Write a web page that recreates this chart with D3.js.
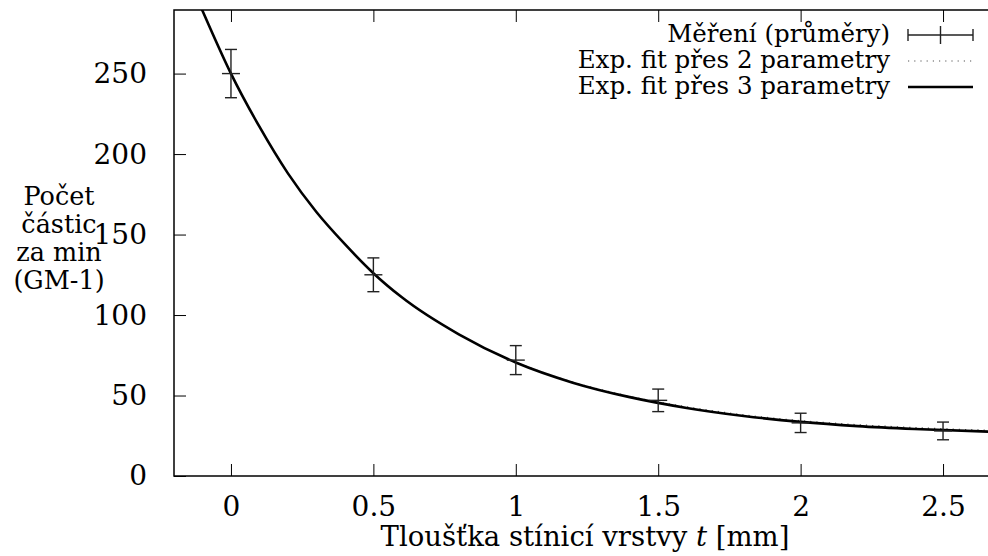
<!DOCTYPE html>
<html lang="cs">
<head>
  <meta charset="utf-8">
  <title>Tloušťka stínicí vrstvy</title>
  <script src="https://d3js.org/d3.v7.min.js"></script>
  <style>
    body { margin: 0; background: #fff; }
    svg { display: block; }
    text { font-family: "DejaVu Serif", serif; fill: #000; }
  </style>
</head>
<body>
<script>
// measured averages with error bars
var tMeas   = [0, 0.5, 1, 1.5, 2, 2.5];
var nMeas   = [250, 125, 72, 47, 33, 28];
var nErr    = [15, 10.5, 9, 7, 6, 5.5];

// fit curves
var tFit    = [-0.12, -0.1, 0, 0.1, 0.2, 0.3, 0.4, 0.5, 0.6, 0.8, 1.0, 1.2, 1.4, 1.6, 1.8, 2.0, 2.2, 2.4, 2.7];
var nFit3   = [297, 289, 250, 217, 188, 164, 144, 126, 111, 88, 70.5, 58, 49, 42.3, 37.3, 33.6, 31, 29.2, 27.3];
var nFit2   = [297, 289, 250, 217, 188, 164, 144, 126, 111, 88, 70.8, 58.4, 49.5, 43, 38, 34.4, 31.9, 30.1, 28.2];

var xTicks  = [0, 0.5, 1, 1.5, 2, 2.5];
var yTicks  = [0, 50, 100, 150, 200, 250];
var legendLabels = ["Měření (průměry)", "Exp. fit přes 2 parametry", "Exp. fit přes 3 parametry"];
var yLabelLines  = ["Počet", "částic", "za min", "(GM-1)"];

var w = 988, h = 556;
// plot box (right edge lies outside the picture, as in the original)
var pLeft = 174, pRight = 1000, pTop = 10, pBottom = 476;

var x = d3.scaleLinear().domain([-0.2, 2.7]).range([pLeft, pRight]);
var y = d3.scaleLinear().domain([0, 289.5]).range([pBottom, pTop]);

var svg = d3.select("body").append("svg")
  .attr("width", w)
  .attr("height", h);

svg.append("defs").append("clipPath").attr("id", "plot")
  .append("rect")
  .attr("x", pLeft).attr("y", pTop)
  .attr("width", pRight - pLeft).attr("height", pBottom - pTop);

// axes with gnuplot-like inward ticks, mirrored on top/right
var tick = 12;
svg.append("g")
  .attr("transform", "translate(0," + pBottom + ")")
  .call(d3.axisBottom(x).tickValues(xTicks).tickSizeInner(-tick).tickSizeOuter(0).tickPadding(20)
    .tickFormat(function(d) { return String(d); }))
  .call(function(g) { g.select(".domain").remove(); });
svg.append("g")
  .attr("transform", "translate(0," + pTop + ")")
  .call(d3.axisTop(x).tickValues(xTicks).tickSizeInner(-tick).tickSizeOuter(0).tickFormat(""))
  .call(function(g) { g.select(".domain").remove(); });
svg.append("g")
  .attr("transform", "translate(" + pLeft + ",0)")
  .call(d3.axisLeft(y).tickValues(yTicks).tickSizeInner(-tick).tickSizeOuter(0).tickPadding(27))
  .call(function(g) { g.select(".domain").remove(); });
svg.append("g")
  .attr("transform", "translate(" + pRight + ",0)")
  .call(d3.axisRight(y).tickValues(yTicks).tickSizeInner(-tick).tickSizeOuter(0).tickFormat(""))
  .call(function(g) { g.select(".domain").remove(); });

svg.selectAll(".tick line").attr("stroke", "#000").attr("stroke-width", 1);
svg.selectAll(".tick text").attr("font-size", 28);

// frame
svg.append("rect")
  .attr("x", pLeft).attr("y", pTop)
  .attr("width", pRight - pLeft).attr("height", pBottom - pTop)
  .attr("fill", "none").attr("stroke", "#000").attr("stroke-width", 1.5);

// axis labels
svg.append("text")
  .attr("x", 585).attr("y", 546)
  .attr("text-anchor", "middle")
  .attr("font-size", 27.5)
  .html("Tloušťka stínicí vrstvy <tspan font-style='italic'>t</tspan> [mm]");

svg.append("g").selectAll("text")
  .data(yLabelLines)
  .enter().append("text")
  .attr("x", 59)
  .attr("y", function(d, i) { return 205 + i * 28; })
  .attr("text-anchor", "middle")
  .attr("font-size", 25.5)
  .text(function(d) { return d; });

// fit curves
var plot = svg.append("g").attr("clip-path", "url(#plot)");
var line = function(vals) {
  return d3.line()
    .x(function(d, i) { return x(tFit[i]); })
    .y(function(d) { return y(d); })
    .curve(d3.curveMonotoneX)(vals);
};
plot.append("path")
  .attr("d", line(nFit2))
  .attr("fill", "none").attr("stroke", "#555").attr("stroke-width", 1.2)
  .attr("stroke-dasharray", "1.2,5");
plot.append("path")
  .attr("d", line(nFit3))
  .attr("fill", "none").attr("stroke", "#000").attr("stroke-width", 2.6);

// measurements: error bars + cross
var cap = 6, cross = 9;
var pts = plot.selectAll("g.pt")
  .data(tMeas)
  .enter().append("g").attr("class", "pt")
  .attr("stroke", "#222").attr("stroke-width", 1.4);
pts.append("line")
  .attr("x1", function(d) { return x(d); }).attr("x2", function(d) { return x(d); })
  .attr("y1", function(d, i) { return y(nMeas[i] + nErr[i]); })
  .attr("y2", function(d, i) { return y(nMeas[i] - nErr[i]); });
pts.append("line")
  .attr("x1", function(d) { return x(d) - cap; }).attr("x2", function(d) { return x(d) + cap; })
  .attr("y1", function(d, i) { return y(nMeas[i] + nErr[i]); })
  .attr("y2", function(d, i) { return y(nMeas[i] + nErr[i]); });
pts.append("line")
  .attr("x1", function(d) { return x(d) - cap; }).attr("x2", function(d) { return x(d) + cap; })
  .attr("y1", function(d, i) { return y(nMeas[i] - nErr[i]); })
  .attr("y2", function(d, i) { return y(nMeas[i] - nErr[i]); });
pts.append("line")
  .attr("x1", function(d) { return x(d) - cross; }).attr("x2", function(d) { return x(d) + cross; })
  .attr("y1", function(d, i) { return y(nMeas[i]); })
  .attr("y2", function(d, i) { return y(nMeas[i]); });

// legend
var legX = 890, legS1 = 908, legS2 = 973, legY = [35, 61, 87];
var leg = svg.append("g");
leg.selectAll("text")
  .data(legendLabels)
  .enter().append("text")
  .attr("x", legX)
  .attr("y", function(d, i) { return legY[i] + 7; })
  .attr("text-anchor", "end")
  .attr("font-size", 24.5)
  .text(function(d) { return d; });

var lm = leg.append("g").attr("stroke", "#222").attr("stroke-width", 1.4);
var mid = (legS1 + legS2) / 2;
lm.append("line").attr("x1", legS1).attr("x2", legS2).attr("y1", legY[0]).attr("y2", legY[0]);
lm.append("line").attr("x1", legS1).attr("x2", legS1).attr("y1", legY[0] - cap).attr("y2", legY[0] + cap);
lm.append("line").attr("x1", legS2).attr("x2", legS2).attr("y1", legY[0] - cap).attr("y2", legY[0] + cap);
lm.append("line").attr("x1", mid).attr("x2", mid).attr("y1", legY[0] - cross).attr("y2", legY[0] + cross);
leg.append("line").attr("x1", legS1).attr("x2", legS2).attr("y1", legY[1]).attr("y2", legY[1])
  .attr("stroke", "#555").attr("stroke-width", 1.2).attr("stroke-dasharray", "1.2,5");
leg.append("line").attr("x1", legS1).attr("x2", legS2).attr("y1", legY[2]).attr("y2", legY[2])
  .attr("stroke", "#000").attr("stroke-width", 2.6);
</script>
</body>
</html>
